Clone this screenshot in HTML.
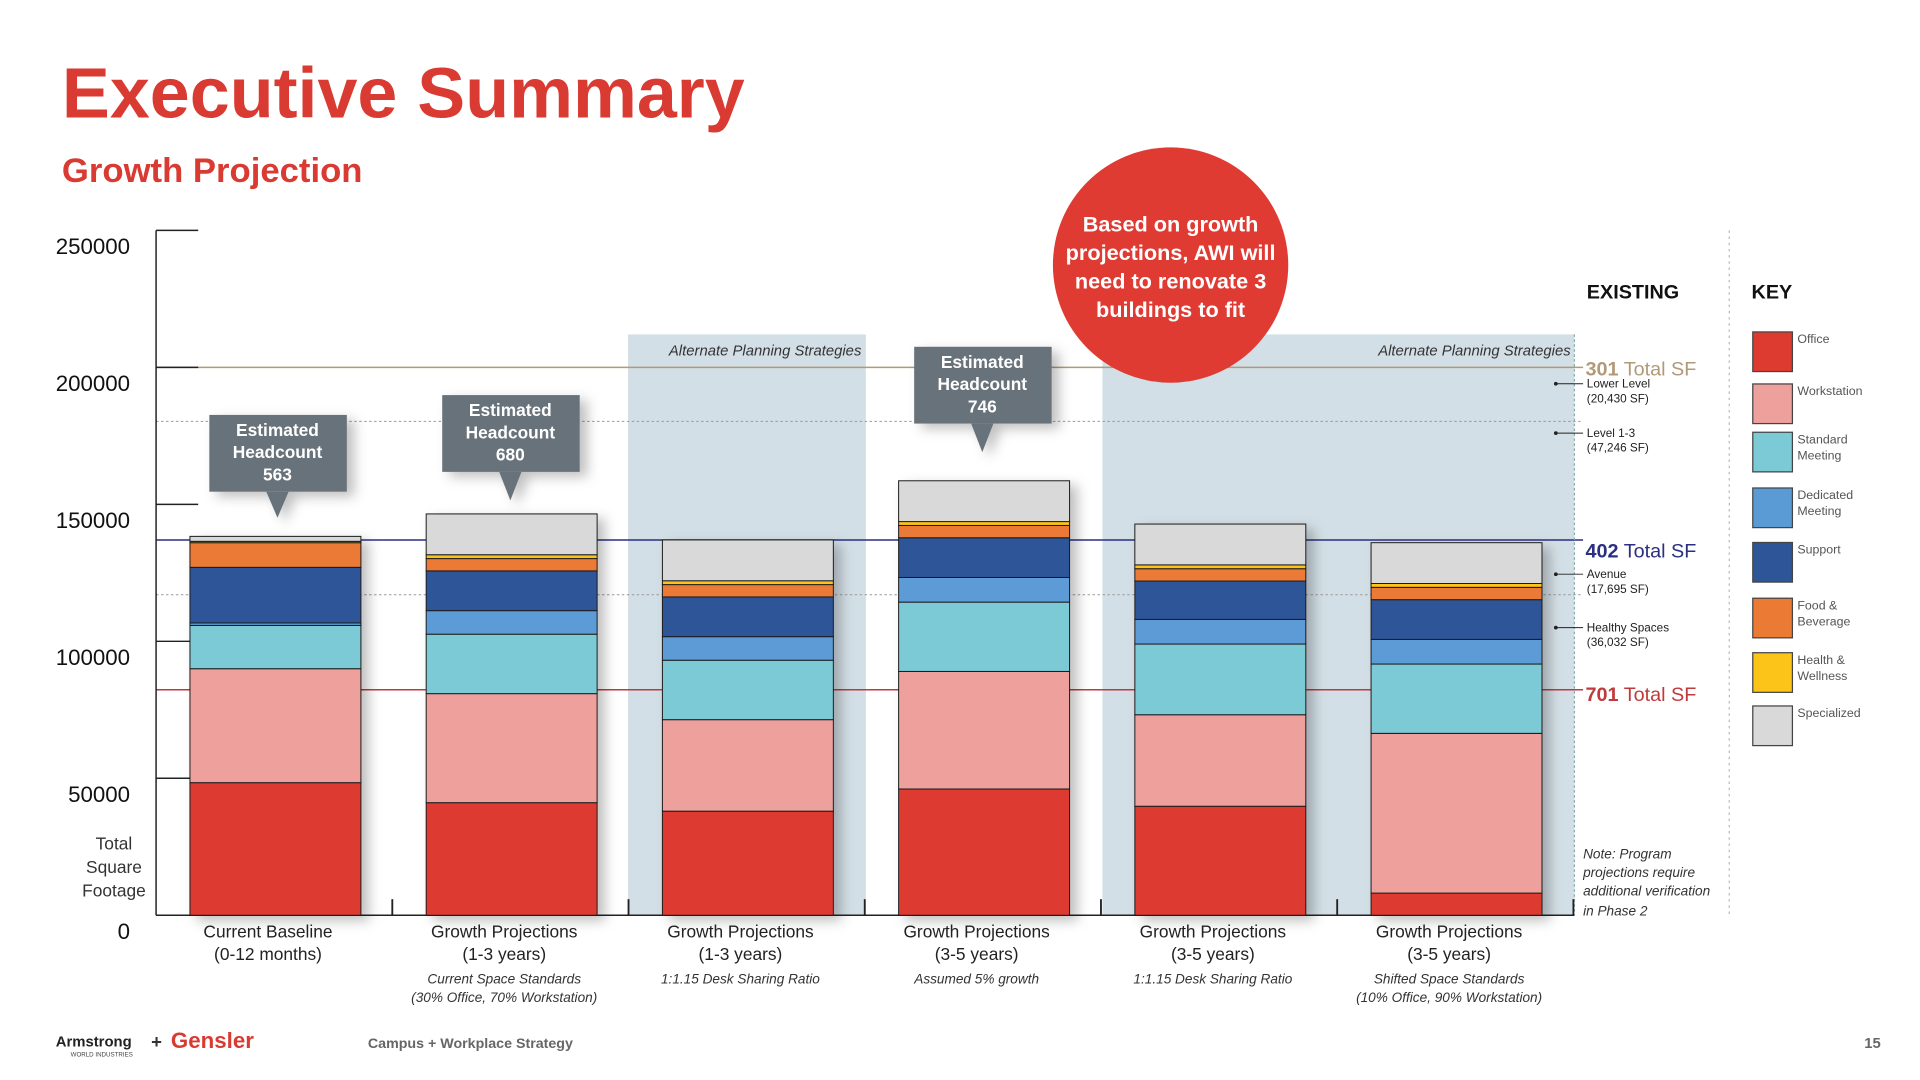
<!DOCTYPE html>
<html><head><meta charset="utf-8"><style>
html,body{margin:0;padding:0;background:#fff;width:1920px;height:1080px;overflow:hidden}
svg{display:block;font-family:"Liberation Sans",sans-serif}
</style></head><body>
<svg id="chart" width="1920" height="1080" viewBox="0 0 1550 872" preserveAspectRatio="none" xmlns="http://www.w3.org/2000/svg">
<defs>
<filter id="sh" x="-10%" y="-10%" width="130%" height="130%"><feDropShadow dx="6" dy="4" stdDeviation="5" flood-color="#000" flood-opacity="0.25"/></filter>
</defs>
<text x="50" y="95" font-size="58" font-weight="bold" fill="#d93a32">Executive Summary</text>
<text x="50" y="147" font-size="28" font-weight="bold" fill="#d93a32">Growth Projection</text>

<rect x="507" y="270" width="192" height="469" fill="#d3dfe6"/>
<rect x="890" y="270" width="381" height="469" fill="#d3dfe6"/>
<text x="540" y="287" font-size="12" font-style="italic" fill="#333">Alternate Planning Strategies</text>
<text x="1268" y="287" font-size="12" font-style="italic" fill="#333" text-anchor="end">Alternate Planning Strategies</text>

<g id="refs"></g>
<g id="axis"></g>
<g id="bars"></g>
<g id="xlabels"></g>

<g filter="url(#sh)">
<rect x="169" y="335" width="111" height="62" fill="#67727a"/><polygon points="215,397 233,397 224,418" fill="#67727a"/>
<text x="224" y="352" font-size="14" font-weight="bold" fill="#fff" text-anchor="middle">Estimated</text>
<text x="224" y="370" font-size="14" font-weight="bold" fill="#fff" text-anchor="middle">Headcount</text>
<text x="224" y="388" font-size="14" font-weight="bold" fill="#fff" text-anchor="middle">563</text></g>
<g filter="url(#sh)">
<rect x="357" y="319" width="111" height="62" fill="#67727a"/><polygon points="403,381 421,381 412,404" fill="#67727a"/>
<text x="412" y="336" font-size="14" font-weight="bold" fill="#fff" text-anchor="middle">Estimated</text>
<text x="412" y="354" font-size="14" font-weight="bold" fill="#fff" text-anchor="middle">Headcount</text>
<text x="412" y="372" font-size="14" font-weight="bold" fill="#fff" text-anchor="middle">680</text></g>
<g filter="url(#sh)">
<rect x="738" y="280" width="111" height="62" fill="#67727a"/><polygon points="784,342 802,342 793,365" fill="#67727a"/>
<text x="793" y="297" font-size="14" font-weight="bold" fill="#fff" text-anchor="middle">Estimated</text>
<text x="793" y="315" font-size="14" font-weight="bold" fill="#fff" text-anchor="middle">Headcount</text>
<text x="793" y="333" font-size="14" font-weight="bold" fill="#fff" text-anchor="middle">746</text></g>

<g>
<circle cx="945" cy="214" r="95" fill="#df3b33"/>
<text x="945" y="187" font-size="17.5" font-weight="bold" fill="#fff" text-anchor="middle">Based on growth</text>
<text x="945" y="210" font-size="17.5" font-weight="bold" fill="#fff" text-anchor="middle">projections, AWI will</text>
<text x="945" y="233" font-size="17.5" font-weight="bold" fill="#fff" text-anchor="middle">need to renovate 3</text>
<text x="945" y="256" font-size="17.5" font-weight="bold" fill="#fff" text-anchor="middle">buildings to fit</text></g>

<line x1="1396" y1="186" x2="1396" y2="740" stroke="#bbb" stroke-dasharray="2,3"/>
<text x="1281" y="241" font-size="16" font-weight="bold" fill="#111">EXISTING</text>
<text x="1414" y="241" font-size="16" font-weight="bold" fill="#111">KEY</text>
<text x="1280" y="303" font-size="16" fill="#b09a78"><tspan font-weight="bold">301</tspan> Total SF</text>
<text x="1280" y="450" font-size="16" fill="#2a2f80"><tspan font-weight="bold">402</tspan> Total SF</text>
<text x="1280" y="566" font-size="16" fill="#c0393b"><tspan font-weight="bold">701</tspan> Total SF</text>
<g id="annots" font-size="9.5" fill="#222"></g>
<g font-size="11" font-style="italic" fill="#333">
<text x="1278" y="693">Note: Program</text><text x="1278" y="708">projections require</text><text x="1278" y="723">additional verification</text><text x="1278" y="739">in Phase 2</text></g>
<g id="legend"></g>

<g>
<text x="45" y="845" font-size="12" font-weight="bold" fill="#222">Armstrong</text>
<text x="57" y="853" font-size="5" fill="#444">WORLD INDUSTRIES</text>
<text x="122" y="846" font-size="15" font-weight="bold" fill="#333">+</text>
<text x="138" y="846" font-size="18" font-weight="bold" fill="#d93a32">Gensler</text></g>
<text x="297" y="846" font-size="11.5" font-weight="bold" fill="#666">Campus + Workplace Strategy</text>
<text x="1505" y="846" font-size="12" font-weight="bold" fill="#666">15</text>
</svg>
<script>
const NS="http://www.w3.org/2000/svg";
const categories=["Current Baseline","Growth Projections","Growth Projections","Growth Projections","Growth Projections","Growth Projections"];
const periods=["(0-12 months)","(1-3 years)","(1-3 years)","(3-5 years)","(3-5 years)","(3-5 years)"];
const notes1=["","Current Space Standards","1:1.15 Desk Sharing Ratio","Assumed 5% growth","1:1.15 Desk Sharing Ratio","Shifted Space Standards"];
const notes2=["","(30% Office, 70% Workstation)","","","","(10% Office, 90% Workstation)"];
const seriesNames=["Office","Workstation","Standard Meeting","Dedicated Meeting","Support","Food & Beverage","Health & Wellness","Specialized"];
const seriesColors=["#dd3a30","#eea09c","#7ccad5","#5b9bd5","#2e5597","#ea7a34","#fcc419","#d9d9d9"];
const office=[48400,41100,38000,46100,39800,8100];
const workstation=[41600,39800,33400,42900,33400,58300];
const standardMeeting=[15800,21700,21700,25300,25800,25300];
const dedicatedMeeting=[900,8600,8600,9000,9000,9000];
const support=[20300,14500,14500,14500,14000,14500];
const foodBeverage=[9000,4500,4500,4500,4500,4500];
const healthWellness=[500,1400,1400,1400,1400,1400];
const specialized=[1800,14900,14900,14900,14900,14900];
const series=[office,workstation,standardMeeting,dedicatedMeeting,support,foodBeverage,healthWellness,specialized];
const yTicks=[0,50000,100000,150000,200000,250000];
const refValues=[200000,180300,137000,117000,82300];
const refStyles=[["#b09a78",""],["#999","2,2"],["#2a2f80",""],["#999","2,2"],["#c0393b",""]];
const annotLabels=[["Lower Level","(20,430 SF)"],["Level 1-3","(47,246 SF)"],["Avenue","(17,695 SF)"],["Healthy Spaces","(36,032 SF)"]];
const annotValues=[194000,176000,124500,105000];

const Y0=739,Y1=186,VMAX=250000;
const y=v=>Y0-(v/VMAX)*(Y0-Y1);
const x0=126,slot=190.7,bw=138;
const xc=i=>x0+slot*(i+0.5)+1;
function mk(tag,attrs,parent,txt){const e=document.createElementNS(NS,tag);for(const k in attrs)e.setAttribute(k,attrs[k]);if(txt!==undefined)e.textContent=txt;parent.appendChild(e);return e;}

const refs=document.getElementById('refs');
refValues.forEach((v,i)=>{const l=mk('line',{x1:126,x2:1278,y1:y(v),y2:y(v),stroke:refStyles[i][0],'stroke-width':i%2?0.8:1.2,'stroke-dasharray':refStyles[i][1]},refs);

});
mk('line',{x1:1271,x2:1271,y1:270,y2:739,stroke:'#8aa',"stroke-dasharray":"2,2"},refs);

const ax=document.getElementById('axis');
const yl=mk('line',{x1:126,x2:126,y1:Y1,y2:Y0,stroke:'#222','stroke-width':1.2},ax);


yTicks.forEach(t=>{mk('line',{x1:126,x2:160,y1:y(t),y2:y(t),stroke:'#222','stroke-width':1.2},ax);
const tx=mk('text',{x:105,y:y(t)+19,'font-size':18,'text-anchor':'end',fill:'#111'},ax,String(t));

});
mk('line',{x1:126,x2:1271,y1:Y0,y2:Y0,stroke:'#222','stroke-width':1.2},ax);
for(let i=1;i<=6;i++){mk('line',{x1:x0+slot*i,x2:x0+slot*i,y1:Y0-13,y2:Y0,stroke:'#222','stroke-width':1.5},ax);}
['Total','Square','Footage'].forEach((w,i)=>mk('text',{x:92,y:686+i*19,'font-size':14,'text-anchor':'middle',fill:'#333'},ax,w));

const bars=document.getElementById('bars');
categories.forEach((c,i)=>{
 const g=mk('g',{filter:'url(#sh)'},bars);
 
 
 let cum=0;
 series.forEach((s,k)=>{const v=s[i];const top=y(cum+v),bot=y(cum);cum+=v;
  const r=mk('rect',{x:xc(i)-bw/2,y:top,width:bw,height:Math.max(bot-top,0),fill:seriesColors[k],stroke:'#1a1a1a','stroke-width':0.8},g);
  
  });
});

const xl=document.getElementById('xlabels');
categories.forEach((c,i)=>{
 const t1=mk('text',{x:xc(i)-6,y:757,'font-size':14,'text-anchor':'middle',fill:'#222'},xl,c);
 
 
 mk('text',{x:xc(i)-6,y:775,'font-size':14,'text-anchor':'middle',fill:'#222'},xl,periods[i]);
 if(notes1[i])mk('text',{x:xc(i)-6,y:794,'font-size':11,'font-style':'italic','text-anchor':'middle',fill:'#333'},xl,notes1[i]);
 if(notes2[i])mk('text',{x:xc(i)-6,y:809,'font-size':11,'font-style':'italic','text-anchor':'middle',fill:'#333'},xl,notes2[i]);
});

const an=document.getElementById('annots');
annotLabels.forEach((a,i)=>{const yy=y(annotValues[i]);
 mk('circle',{cx:1256,cy:yy,r:1.5,fill:'#222'},an);
 mk('line',{x1:1256,x2:1278,y1:yy,y2:yy,stroke:'#222','stroke-width':0.8},an);
 const t=mk('text',{x:1281,y:yy+3},an,a[0]);
 
 
 mk('text',{x:1281,y:yy+15},an,a[1]);});

const lg=document.getElementById('legend');
const legY=[268,310,349,394,438,483,527,570];
seriesNames.forEach((n,i)=>{
 const g=mk('g',{},lg);
 
 
 mk('rect',{x:1415,y:legY[i],width:32,height:32,fill:seriesColors[i],stroke:'#444','stroke-width':1},g);
 const parts=n.split(' ');
 if(parts.length===1)mk('text',{x:1451,y:legY[i]+9,'font-size':10,fill:'#555'},g,n);
 else{mk('text',{x:1451,y:legY[i]+9,'font-size':10,fill:'#555'},g,parts.slice(0,-1).join(' '));mk('text',{x:1451,y:legY[i]+22,'font-size':10,fill:'#555'},g,parts[parts.length-1]);}
});
</script>
</body></html>
